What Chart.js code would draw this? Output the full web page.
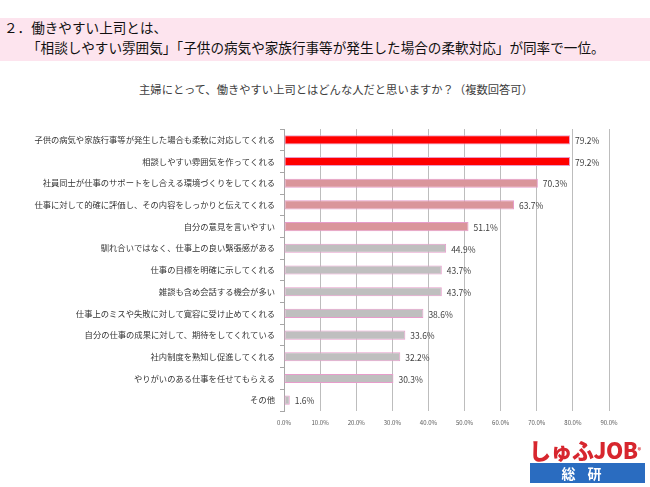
<!DOCTYPE html>
<html><head><meta charset="utf-8">
<script src="https://cdn.jsdelivr.net/npm/chart.js@4"></script>
<style>
html,body{margin:0;padding:0;background:#fff;}
body{width:650px;height:487px;position:relative;overflow:hidden;font-family:"Noto Sans CJK JP","Noto Sans",sans-serif;}
#band{position:absolute;left:0;top:18px;width:650px;height:43px;background:#fde4ee;}
.t{position:absolute;white-space:nowrap;color:#111;font-size:13.6px;line-height:15px;}
#sub{position:absolute;left:0;width:650px;top:81px;text-align:center;font-size:11.3px;color:#404040;padding-left:22px;box-sizing:border-box;}
#wrap{position:absolute;left:0;top:0;width:650px;height:487px;}
#logo1{position:absolute;left:529px;top:433px;font-size:22px;font-weight:900;color:#d7262e;letter-spacing:-0.5px;}
#logo1 sup{font-size:7px;vertical-align:top;position:relative;top:12px;}
#logo2{position:absolute;left:530px;top:463px;width:115px;height:20px;background:#2a6cc0;color:#fff;font-weight:bold;font-size:14px;line-height:20px;text-align:center;letter-spacing:12px;}
</style></head>
<body>
<div id="band"></div>
<div class="t" style="left:4px;top:20px;">２．働きやすい上司とは、</div>
<div class="t" style="left:27px;top:40px;">「相談しやすい雰囲気」「子供の病気や家族行事等が発生した場合の柔軟対応」が同率で一位。</div>
<div id="sub">主婦にとって、働きやすい上司とはどんな人だと思いますか？（複数回答可）</div>
<div id="wrap"><canvas id="c" width="650" height="487"></canvas></div>
<div id="logo1">しゅふJOB<sup>®</sup></div>
<div id="logo2">総研</div>
<script>
const categories = [
  "子供の病気や家族行事等が発生した場合も柔軟に対応してくれる",
  "相談しやすい雰囲気を作ってくれる",
  "社員同士が仕事のサポートをし合える環境づくりをしてくれる",
  "仕事に対して的確に評価し、その内容をしっかりと伝えてくれる",
  "自分の意見を言いやすい",
  "馴れ合いではなく、仕事上の良い緊張感がある",
  "仕事の目標を明確に示してくれる",
  "雑談も含め会話する機会が多い",
  "仕事上のミスや失敗に対して寛容に受け止めてくれる",
  "自分の仕事の成果に対して、期待をしてくれている",
  "社内制度を熟知し促進してくれる",
  "やりがいのある仕事を任せてもらえる",
  "その他"
];
const values = [79.2, 79.2, 70.3, 63.7, 51.1, 44.9, 43.7, 43.7, 38.6, 33.6, 32.2, 30.3, 1.6];
const xTicks = [0, 10, 20, 30, 40, 50, 60, 70, 80, 90];

const barColors = values.map((v, i) => i < 2 ? '#ff0000' : (i < 5 ? '#da959b' : '#bfbfbf'));
const FONT = '"Noto Sans CJK JP","Noto Sans",sans-serif';

const labelPlugin = {
  id: 'valLabels',
  afterDatasetsDraw(chart) {
    const ctx = chart.ctx;
    const meta = chart.getDatasetMeta(0);
    ctx.save();
    ctx.font = '8.5px ' + FONT;
    ctx.fillStyle = '#404040';
    ctx.textAlign = 'left';
    ctx.textBaseline = 'middle';
    meta.data.forEach((bar, i) => {
      ctx.fillText(values[i].toFixed(1) + '%', bar.x + 5, bar.y + 1);
    });
    ctx.restore();
  }
};

new Chart(document.getElementById('c'), {
  type: 'bar',
  data: {
    labels: categories,
    datasets: [{
      data: values,
      backgroundColor: barColors,
      borderColor: '#e79ccb',
      borderWidth: 1,
      borderSkipped: false,
      barPercentage: 0.42,
      categoryPercentage: 1.0
    }]
  },
  options: {
    indexAxis: 'y',
    responsive: false,
    animation: false,
    devicePixelRatio: 1,
    layout: { padding: { left: 0, right: 41, top: 129, bottom: 56 } },
    plugins: { legend: { display: false }, tooltip: { enabled: false }, title: { display: false } },
    scales: {
      x: {
        min: 0, max: 90,
        afterFit(s) { s.height = 20; },
        afterBuildTicks(s) { s.ticks = xTicks.map(v => ({ value: v })); },
        grid: { color: '#bdbdbd', lineWidth: 1, drawTicks: false },
        border: { display: false },
        ticks: {
          padding: 8,
          color: '#595959',
          font: { family: FONT, size: 6 },
          callback: v => Number(v).toFixed(1) + '%'
        }
      },
      y: {
        afterFit(s) { s.width = 284; },
        grid: { display: true, drawOnChartArea: false, drawTicks: true, tickLength: 4, color: '#a6a6a6', offset: true },
        border: { display: true, color: '#a6a6a6', width: 1 },
        ticks: {
          padding: 5,
          color: '#333333',
          font: { family: FONT, size: 8.3 },
          autoSkip: false
        }
      }
    }
  },
  plugins: [labelPlugin]
});
</script>
</body></html>
